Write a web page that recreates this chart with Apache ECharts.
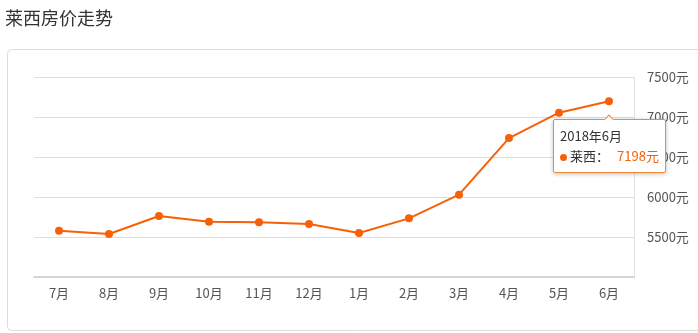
<!DOCTYPE html>
<html>
<head>
<meta charset="utf-8">
<script src="https://cdn.jsdelivr.net/npm/echarts@6/dist/echarts.min.js"></script>
<style>
html,body{margin:0;padding:0;background:#fff;}
#c{width:698px;height:333px;}
</style>
</head>
<body>
<div id="c"></div>
<script>
var titleText = '莱西房价走势';
var seriesName = '莱西';
var months = ['7月','8月','9月','10月','11月','12月','1月','2月','3月','4月','5月','6月'];
var fullDates = ['2017年7月','2017年8月','2017年9月','2017年10月','2017年11月','2017年12月','2018年1月','2018年2月','2018年3月','2018年4月','2018年5月','2018年6月'];
var prices = [5579, 5537, 5762, 5691, 5683, 5662, 5550, 5733, 6029, 6737, 7054, 7198];
var yMin = 5000, yMax = 7500, yStep = 500;

var font = '"Noto Sans CJK SC", "Noto Sans", sans-serif';
var chart = echarts.init(document.getElementById('c'), null, {renderer: 'canvas'});
var orange = '#f86008';
chart.setOption({
  animation: false,
  textStyle: {fontFamily: font},
  title: {
    text: titleText, left: 0, top: 4,
    textStyle: {fontSize: 18, fontWeight: 'normal', color: '#333', fontFamily: font}
  },
  graphic: [{
    type: 'rect', left: 5, top: 47,
    shape: {width: 720, height: 281, r: 4},
    style: {fill: 'none', stroke: '#dddddd', lineWidth: 1},
    z: -10
  }],
  grid: {left: 34, right: 64, top: 77, bottom: 56},
  tooltip: {
    trigger: 'item',
    triggerOn: 'none',
    alwaysShowContent: true,
    position: 'bottom',
    backgroundColor: '#fff',
    borderColor: '#f0883a',
    borderWidth: 1,
    padding: [6, 6],
    textStyle: {fontFamily: font, fontSize: 12, color: '#333'},
    extraCssText: 'box-shadow:0 1px 4px rgba(0,0,0,0.25);border-radius:2px;margin-top:4px;',
    formatter: function (p) {
      return '<div style="font-size:13px;line-height:20px;color:#333">' + fullDates[p.dataIndex] + '</div>' +
        '<div style="font-size:13px;line-height:20px;color:#333"><span style="display:inline-block;width:7px;height:7px;border-radius:50%;background:' + orange + ';margin-right:3px;vertical-align:middle"></span>' +
        p.seriesName + '：<span style="color:' + orange + ';margin-left:8px">' + p.value + '元</span></div>';
    }
  },
  xAxis: {
    type: 'category',
    data: months,
    boundaryGap: true,
    axisLine: {lineStyle: {color: '#d6d6d6', width: 2}},
    axisTick: {alignWithLabel: true, lineStyle: {color: '#ddd'}, length: 4},
    axisLabel: {color: '#555', fontSize: 13, margin: 10, fontFamily: font}
  },
  yAxis: {
    type: 'value',
    position: 'right',
    min: yMin, max: yMax, interval: yStep,
    axisLine: {show: true, lineStyle: {color: '#e2e2e2', width: 1}},
    axisTick: {show: false},
    axisLabel: {color: '#555', fontSize: 13, margin: 13, showMinLabel: false,
      formatter: function (v) { return v + '元'; }, fontFamily: font},
    splitLine: {lineStyle: {color: '#dedede'}}
  },
  series: [{
    name: seriesName,
    type: 'line',
    data: prices,
    symbol: 'circle',
    symbolSize: 8,
    lineStyle: {color: orange, width: 2},
    itemStyle: {color: orange},
    emphasis: {disabled: true}
  }]
});
chart.dispatchAction({type: 'showTip', seriesIndex: 0, dataIndex: 11});
</script>
</body>
</html>
